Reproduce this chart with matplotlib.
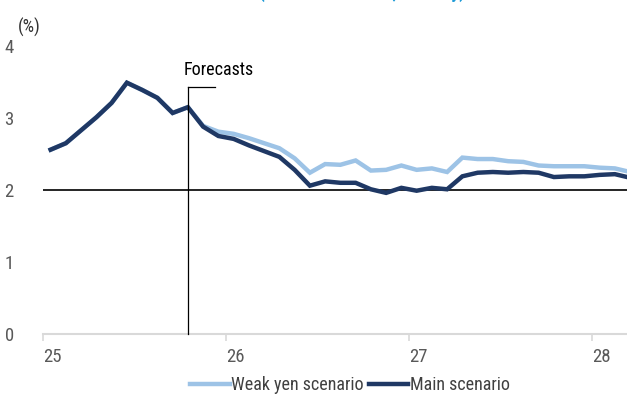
import matplotlib
matplotlib.use("Agg")
import matplotlib.pyplot as plt
from matplotlib import font_manager

# ---------------- data ----------------
month_index = list(range(39))  # monthly points starting Jan 2025
main_scenario = [2.56, 2.65, 2.83, 3.01, 3.21, 3.49, 3.39, 3.28, 3.07, 3.15,
                 2.88, 2.75, 2.71, 2.62, 2.54, 2.46, 2.28, 2.06, 2.12, 2.10,
                 2.10, 2.01, 1.96, 2.03, 1.99, 2.03, 2.01, 2.19, 2.24, 2.25,
                 2.24, 2.25, 2.24, 2.18, 2.19, 2.19, 2.21, 2.22, 2.17]
weak_yen = [2.56, 2.65, 2.83, 3.01, 3.21, 3.49, 3.39, 3.28, 3.07, 3.15,
            2.89, 2.81, 2.78, 2.72, 2.65, 2.58, 2.44, 2.24, 2.36, 2.35,
            2.41, 2.27, 2.28, 2.34, 2.28, 2.30, 2.25, 2.45, 2.43, 2.43,
            2.40, 2.39, 2.34, 2.33, 2.33, 2.33, 2.31, 2.30, 2.25]
last_actual = 9
year_ticks = [25, 26, 27, 28]
y_ticks = [0, 1, 2, 3, 4]
series_labels = ["Weak yen scenario", "Main scenario"]
title_text = "(Core CPI inflation, monthly)"

x_vals = [25 + (m + 0.5) / 12 for m in month_index]

# ---------------- style ----------------
avail = {f.name for f in font_manager.fontManager.ttflist}
fam = "DejaVu Sans"
for cand in ["Liberation Sans Narrow", "Arial Narrow", "Roboto Condensed", "Archivo Narrow"]:
    if cand in avail:
        fam = cand
        break
plt.rcParams["font.family"] = [fam, "DejaVu Sans"]

DARK = "#1F3864"
LIGHT = "#9DC3E6"
GREY = "#595959"

fig = plt.figure(figsize=(6.27, 3.97), dpi=100)
ax = fig.add_axes([43 / 627, 1 - 334 / 397, 1 - 43 / 627, (334 - 46) / 397])

l1, = ax.plot(x_vals, weak_yen, color=LIGHT, lw=3.2, solid_joinstyle="miter", zorder=3)
l2, = ax.plot(x_vals, main_scenario, color=DARK, lw=3.2, solid_joinstyle="miter", zorder=4)

ax.axhline(2, color="black", lw=1.2, zorder=2)

xf = x_vals[last_actual]
ax.plot([xf, xf], [0, 3.43], color="black", lw=0.9, zorder=5, clip_on=False)
ax.plot([xf, xf + 0.15], [3.43, 3.43], color="black", lw=0.9, zorder=5, clip_on=False)
ax.text(xf - 0.025, 3.54, "Forecasts", fontsize=13, color="black", ha="left", va="bottom")

ax.set_xlim(25, 25 + (627 - 43) / 183)
ax.set_ylim(0, 4)
ax.set_xticks(year_ticks)
ax.set_xticklabels([str(t) for t in year_ticks], ha="left")
ax.set_yticks(y_ticks)
ax.set_yticklabels([str(t) for t in y_ticks])
ax.tick_params(axis="x", direction="out", length=5, width=1.2, color="#D9D9D9",
               labelsize=13.5, labelcolor=GREY, pad=5)
ax.tick_params(axis="y", length=0, labelsize=13.5, labelcolor=GREY, pad=21)

for s in ["top", "right", "left"]:
    ax.spines[s].set_visible(False)
ax.spines["bottom"].set_color("#D9D9D9")
ax.spines["bottom"].set_linewidth(1.5)

fig.text(18 / 627, 1 - 33 / 397, "(%)", fontsize=13, color="#333333", ha="left", va="baseline")

fig.text(362 / 627, 1 + 2.5 / 397, title_text, fontsize=13, fontweight="bold",
         color="#1E9BD7", ha="center", va="baseline")

fig.legend([l1, l2], series_labels, loc="center", ncol=2, frameon=False,
           bbox_to_anchor=(350 / 627, 1 - 385 / 397), fontsize=13, handlelength=2.2,
           handletextpad=0.1, columnspacing=0.25, labelcolor="#404040", borderpad=0)

fig.savefig("out.png", dpi=100)
